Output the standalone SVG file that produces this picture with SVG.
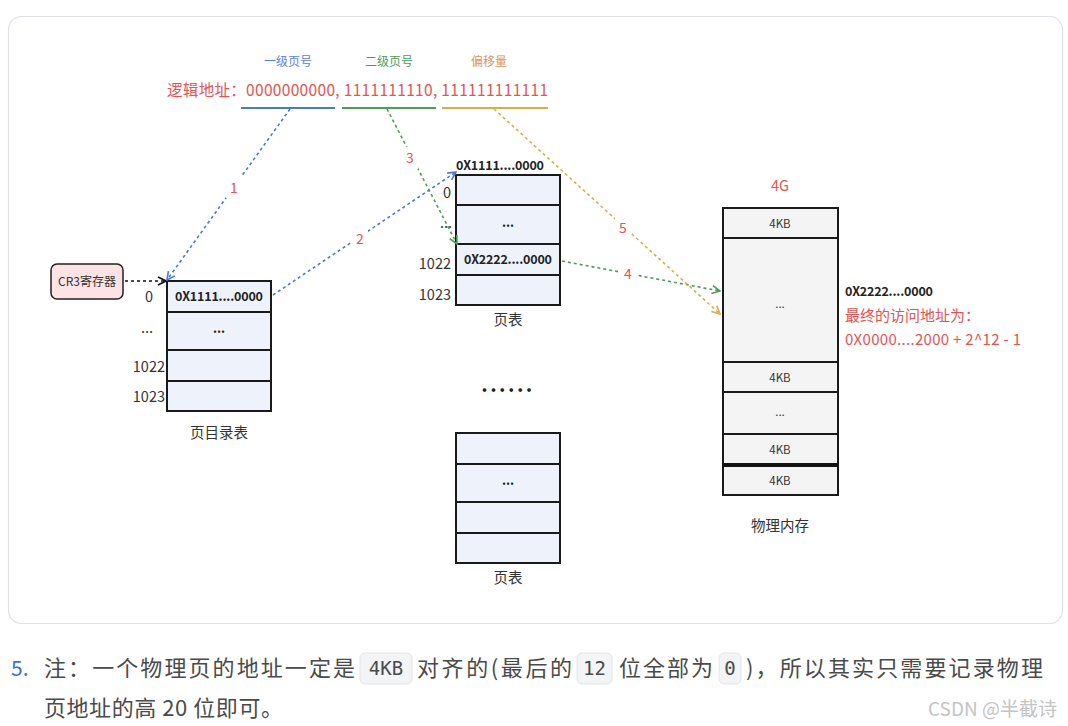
<svg xmlns="http://www.w3.org/2000/svg" width="1068" height="726" viewBox="0 0 1068 726">
<style>
text{font-family:"Noto Sans CJK SC","Noto Sans",sans-serif}
.tb{fill:#eef2fb;stroke:#1a1a1a;stroke-width:2}
.pm{fill:#f4f4f4;stroke:#1a1a1a;stroke-width:2}
.lbl{font-size:14.5px;fill:#333;text-anchor:end}
.cap{font-size:14.5px;fill:#333;text-anchor:middle}
.cell{font-size:12.5px;font-weight:bold;fill:#222;text-anchor:middle}
.kb{font-size:11.5px;fill:#333;text-anchor:middle}
.num{font-size:14px;fill:#e05555;text-anchor:middle}
.dash{fill:none;stroke-width:1.6;stroke-dasharray:3 3}
.para{font-size:22px;fill:#4a4a4a}
.code{fill:#f3f4f6;stroke:#e3e5e8;stroke-width:1}
.codet{font-family:"DejaVu Sans Mono","Liberation Mono",monospace;font-size:19px;fill:#4a4a4a;text-anchor:middle}
</style>
<defs>
<marker id="ab" viewBox="0 0 10 10" refX="9" refY="5" markerWidth="10" markerHeight="10" markerUnits="userSpaceOnUse" orient="auto"><path d="M1,1 L9,5 L1,9" fill="none" stroke="#4a78d0" stroke-width="1.6"/></marker>
<marker id="ag" viewBox="0 0 10 10" refX="9" refY="5" markerWidth="10" markerHeight="10" markerUnits="userSpaceOnUse" orient="auto"><path d="M1,1 L9,5 L1,9" fill="none" stroke="#4f9a5c" stroke-width="1.6"/></marker>
<marker id="ay" viewBox="0 0 10 10" refX="9" refY="5" markerWidth="10" markerHeight="10" markerUnits="userSpaceOnUse" orient="auto"><path d="M1,1 L9,5 L1,9" fill="none" stroke="#d8ad4c" stroke-width="1.6"/></marker>
<marker id="ak" viewBox="0 0 10 10" refX="9" refY="5" markerWidth="10" markerHeight="10" markerUnits="userSpaceOnUse" orient="auto"><path d="M1,1 L9,5 L1,9" fill="none" stroke="#111" stroke-width="1.6"/></marker>
</defs>
<rect width="1068" height="726" fill="#fff"/>
<rect x="8.5" y="16.5" width="1054" height="607" rx="13" fill="#fff" stroke="#e0e0e6" stroke-width="1.2"/>

<g id="address">
<text x="288" y="66" font-size="12" fill="#5b82d6" text-anchor="middle">一级页号</text>
<text x="389" y="66" font-size="12" fill="#4f9a5c" text-anchor="middle">二级页号</text>
<text x="489" y="66" font-size="12" fill="#d89660" text-anchor="middle">偏移量</text>
<text x="167" y="96" font-size="15.5" fill="#e05555" textLength="381" lengthAdjust="spacing">逻辑地址：0000000000, 1111111110, 111111111111</text>
<line x1="241" y1="108" x2="335" y2="108" stroke="#4a78d0" stroke-width="2"/>
<line x1="342" y1="108" x2="436" y2="108" stroke="#4f9a5c" stroke-width="2"/>
<line x1="442" y1="108" x2="548" y2="108" stroke="#d8ad4c" stroke-width="2"/>
</g>

<g id="cr3">
<rect x="51" y="264" width="72" height="35" rx="6" fill="#fde3e3" stroke="#222" stroke-width="1.5"/>
<text x="87" y="286" font-size="12" fill="#333" text-anchor="middle">CR3寄存器</text>
</g>

<g id="page-directory">
<rect class="tb" x="167" y="281" width="104" height="31"/>
<rect class="tb" x="167" y="312" width="104" height="38"/>
<rect class="tb" x="167" y="350" width="104" height="31"/>
<rect class="tb" x="167" y="381" width="104" height="30"/>
<text class="cell" x="219" y="301" textLength="88" lengthAdjust="spacing">0X1111....0000</text>
<text class="cell" x="219" y="333">...</text>
<text class="lbl" x="153" y="302">0</text>
<text class="lbl" x="153" y="333" font-size="11">...</text>
<text class="lbl" x="165" y="372">1022</text>
<text class="lbl" x="165" y="402">1023</text>
<text class="cap" x="219" y="438">页目录表</text>
</g>

<g id="page-table-1">
<text x="456" y="170" font-size="12.5" font-weight="bold" fill="#222" textLength="88" lengthAdjust="spacing">0X1111....0000</text>
<rect class="tb" x="456" y="175" width="104" height="30"/>
<rect class="tb" x="456" y="205" width="104" height="39"/>
<rect class="tb" x="456" y="244" width="104" height="31"/>
<rect class="tb" x="456" y="275" width="104" height="30"/>
<text class="cell" x="508" y="227">...</text>
<text class="cell" x="508" y="264" textLength="88" lengthAdjust="spacing">0X2222....0000</text>
<text class="lbl" x="451" y="198">0</text>
<text class="lbl" x="452" y="228" font-size="11">...</text>
<text class="lbl" x="451" y="269">1022</text>
<text class="lbl" x="451" y="300">1023</text>
<text class="cap" x="508" y="325">页表</text>
</g>

<g id="ellipsis">
<text x="508" y="392" font-size="20" font-weight="bold" fill="#222" text-anchor="middle" letter-spacing="2.4">......</text>
</g>

<g id="page-table-2">
<rect class="tb" x="456" y="433" width="104" height="31"/>
<rect class="tb" x="456" y="464" width="104" height="38"/>
<rect class="tb" x="456" y="502" width="104" height="31"/>
<rect class="tb" x="456" y="533" width="104" height="30"/>
<text class="cell" x="508" y="485">...</text>
<text class="cap" x="508" y="583">页表</text>
</g>

<g id="physical-memory">
<text x="780" y="191" font-size="14.5" fill="#e05555" text-anchor="middle">4G</text>
<rect class="pm" x="723" y="208" width="115" height="30"/>
<rect class="pm" x="723" y="238" width="115" height="124"/>
<rect class="pm" x="723" y="362" width="115" height="30"/>
<rect class="pm" x="723" y="392" width="115" height="42"/>
<rect class="pm" x="723" y="434" width="115" height="30"/>
<rect class="pm" x="723" y="466" width="115" height="29"/>
<line x1="723" y1="465" x2="838" y2="465" stroke="#111" stroke-width="3"/>
<text class="kb" x="780" y="228">4KB</text>
<text class="kb" x="780" y="308" fill="#555">...</text>
<text class="kb" x="780" y="382">4KB</text>
<text class="kb" x="780" y="416" fill="#555">...</text>
<text class="kb" x="780" y="454">4KB</text>
<text class="kb" x="780" y="485">4KB</text>
<text class="cap" x="780" y="531">物理内存</text>
<text x="845" y="296" font-size="12.5" font-weight="bold" fill="#222" textLength="88" lengthAdjust="spacing">0X2222....0000</text>
<text x="845" y="321" font-size="15" fill="#e05555">最终的访问地址为：</text>
<text x="845" y="345" font-size="15" fill="#e05555" textLength="176" lengthAdjust="spacing">0X0000....2000 + 2^12 - 1</text>
</g>

<g id="connectors">
<line class="dash" x1="125" y1="281" x2="166" y2="281" stroke="#111" marker-end="url(#ak)"/>
<line class="dash" x1="290" y1="109" x2="167" y2="280" stroke="#4a78d0" marker-end="url(#ab)"/>
<line class="dash" x1="273" y1="295" x2="456" y2="172" stroke="#4a78d0" marker-end="url(#ab)"/>
<line class="dash" x1="387" y1="109" x2="457" y2="244" stroke="#4f9a5c" marker-end="url(#ag)"/>
<line class="dash" x1="562" y1="261" x2="720" y2="291" stroke="#4f9a5c" marker-end="url(#ag)"/>
<line class="dash" x1="494" y1="109" x2="720" y2="314" stroke="#d8ad4c" marker-end="url(#ay)"/>
<rect x="226" y="176" width="16" height="22" fill="#fff"/>
<text class="num" x="234" y="193">1</text>
<rect x="352" y="227" width="16" height="22" fill="#fff"/>
<text class="num" x="360" y="244">2</text>
<rect x="402" y="147" width="16" height="22" fill="#fff"/>
<text class="num" x="410" y="163">3</text>
<rect x="620" y="262" width="16" height="22" fill="#fff"/>
<text class="num" x="628" y="279">4</text>
<rect x="615" y="217" width="16" height="22" fill="#fff"/>
<text class="num" x="623" y="233">5</text>
</g>

<g id="note">
<text x="11" y="676" font-size="21" fill="#3d6fd8">5.</text>
<text class="para" x="44" y="676" textLength="311" lengthAdjust="spacing">注：一个物理页的地址一定是</text>
<rect class="code" x="360" y="653" width="52" height="31" rx="5"/>
<text class="codet" x="386" y="675">4KB</text>
<text class="para" x="417" y="676" textLength="155" lengthAdjust="spacing">对齐的(最后的</text>
<rect class="code" x="577" y="653" width="35" height="31" rx="5"/>
<text class="codet" x="594.5" y="675">12</text>
<text class="para" x="619" y="676" textLength="94" lengthAdjust="spacing">位全部为</text>
<rect class="code" x="719" y="653" width="22" height="31" rx="5"/>
<text class="codet" x="730" y="675">0</text>
<text class="para" x="746" y="676" textLength="297" lengthAdjust="spacing">)，所以其实只需要记录物理</text>
<text class="para" x="44" y="716" textLength="239" lengthAdjust="spacing">页地址的高 20 位即可。</text>
<text x="1057" y="716" font-size="19" fill="#c4c4c4" text-anchor="end">CSDN @半截诗</text>
</g>
</svg>
